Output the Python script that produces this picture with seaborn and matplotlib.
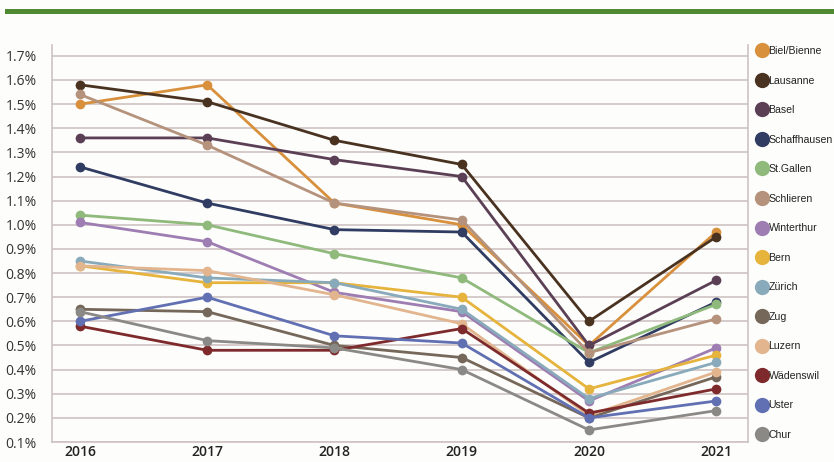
import pandas as pd
import matplotlib.pyplot as plt
import seaborn as sns
from matplotlib.lines import Line2D
from matplotlib.patches import Rectangle
from matplotlib.ticker import FuncFormatter

# --- data (percent) ---
years = ['2016', '2017', '2018', '2019', '2020', '2021']
cities = ['Biel/Bienne', 'Lausanne', 'Basel', 'Schaffhausen', 'St.Gallen', 'Schlieren',
          'Winterthur', 'Bern', 'Zürich', 'Zug', 'Luzern', 'Wädenswil', 'Uster', 'Chur']

biel = [1.50, 1.58, 1.09, 1.00, 0.50, 0.97]
lausanne = [1.58, 1.51, 1.35, 1.25, 0.60, 0.95]
basel = [1.36, 1.36, 1.27, 1.20, 0.50, 0.77]
schaffhausen = [1.24, 1.09, 0.98, 0.97, 0.43, 0.68]
st_gallen = [1.04, 1.00, 0.88, 0.78, 0.47, 0.67]
schlieren = [1.54, 1.33, 1.09, 1.02, 0.47, 0.61]
winterthur = [1.01, 0.93, 0.72, 0.64, 0.27, 0.49]
bern = [0.83, 0.76, 0.76, 0.70, 0.32, 0.46]
zuerich = [0.85, 0.78, 0.76, 0.65, 0.28, 0.43]
zug = [0.65, 0.64, 0.50, 0.45, 0.20, 0.37]
luzern = [0.83, 0.81, 0.71, 0.59, 0.21, 0.39]
waedenswil = [0.58, 0.48, 0.48, 0.57, 0.22, 0.32]
uster = [0.60, 0.70, 0.54, 0.51, 0.20, 0.27]
chur = [0.64, 0.52, 0.49, 0.40, 0.15, 0.23]

series = [biel, lausanne, basel, schaffhausen, st_gallen, schlieren, winterthur,
          bern, zuerich, zug, luzern, waedenswil, uster, chur]

colors = ['#D8903C', '#4A3220', '#5B4055', '#303C62', '#8FBA7C', '#B5927C', '#9D7DB2',
          '#E6B43C', '#89AABB', '#75685A', '#E2B58E', '#7E2A2C', '#6170B2', '#8B8986']

rows = []
for city, vals in zip(cities, series):
    for y, v in zip(years, vals):
        rows.append({'year': y, 'city': city, 'value': v})
df = pd.DataFrame(rows)

sns.set_style('white')
plt.rcParams['font.family'] = ['Open Sans', 'DejaVu Sans']

fig = plt.figure(figsize=(8.34, 4.62), dpi=100)
fig.patch.set_facecolor('#FDFDFB')
ax = fig.add_axes([52 / 834, 1 - 442 / 462, (748 - 52) / 834, (442 - 45) / 462])
ax.set_facecolor('#FDFDFB')

# green band on top
fig.add_artist(Rectangle((5 / 834, 1 - 14 / 462), 1, 5 / 462, transform=fig.transFigure,
                         facecolor='#4F8A32', edgecolor='none'))

sns.lineplot(data=df, x='year', y='value', hue='city', hue_order=cities,
             palette=dict(zip(cities, colors)), marker='o', markersize=7,
             markeredgewidth=0, linewidth=2, legend=False, ax=ax, zorder=3)

# --- axes ---
grid_c = '#CFC3C3'
ax.set_ylim(0.1, 1.745)
ax.set_xlim(-0.22, 5.25)
ax.set_yticks([i / 10 for i in range(1, 18)])
ax.yaxis.set_major_formatter(FuncFormatter(lambda v, p: f"{v:.1f}%"))
ax.grid(axis='y', color=grid_c, linewidth=1.2)
ax.set_axisbelow(True)
ax.tick_params(axis='y', length=5, color=grid_c, labelsize=10, labelcolor='#333333', pad=6)
ax.tick_params(axis='x', length=0, labelsize=10, labelcolor='#222222', pad=2)
for lbl in ax.get_xticklabels():
    lbl.set_fontweight('semibold')
ax.set_xlabel('')
ax.set_ylabel('')
ax.spines['top'].set_visible(False)
for s in ['left', 'right', 'bottom']:
    ax.spines[s].set_color(grid_c)
    ax.spines[s].set_linewidth(1.2)

# --- legend ---
handles = [Line2D([], [], marker='o', linestyle='none', markersize=11,
                  markerfacecolor=c, markeredgewidth=0) for c in colors]
ax.legend(handles, cities, loc='upper left', bbox_to_anchor=(1.0, 1.016), frameon=False,
          labelspacing=1.85, handletextpad=0.05, handlelength=1.2, borderaxespad=0.3,
          labelcolor='#222222', prop={'family': ['Liberation Sans', 'DejaVu Sans'], 'size': 7.6})

fig.savefig('out.png', dpi=100, facecolor=fig.get_facecolor())
plt.close()
